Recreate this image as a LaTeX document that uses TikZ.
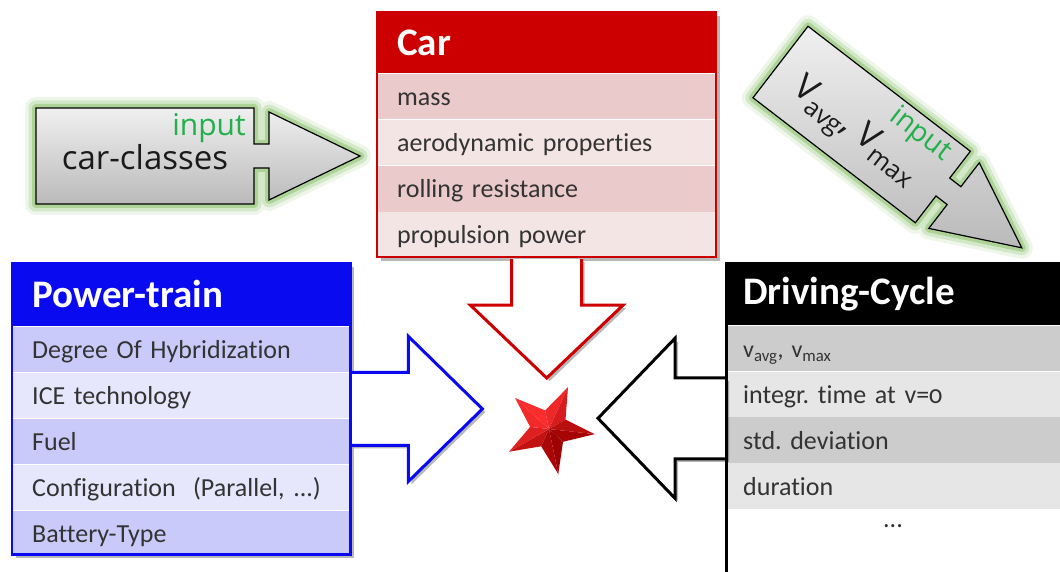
\documentclass[tikz,border=0pt]{standalone}
\usepackage{fontspec}
\setmainfont{Carlito}[Numbers=OldStyle, WordSpace=0.55, Ligatures=NoCommon]
\newfontfamily\arrowfont{Open Sans}
\usetikzlibrary{calc,shadows}
\definecolor{carred}{HTML}{CC0000}
\definecolor{carA}{HTML}{EACACA}
\definecolor{carB}{HTML}{F4E5E5}
\definecolor{ptblue}{HTML}{0A0AF0}
\definecolor{ptA}{HTML}{CACAFA}
\definecolor{ptB}{HTML}{E6E6FC}
\definecolor{dcA}{HTML}{CCCCCC}
\definecolor{dcB}{HTML}{E6E6E6}
\definecolor{rowtext}{HTML}{333333}
\definecolor{arrowtext}{HTML}{1A1A1A}
\definecolor{glow}{HTML}{8DC26F}
\definecolor{inputgreen}{HTML}{21B04B}
\definecolor{starlt}{HTML}{FF3030}
\definecolor{stardk}{HTML}{9A0000}
\newcommand{\lowsub}[1]{\raisebox{-0.45ex}{\scalebox{0.72}{#1}}}
\frenchspacing
\begin{document}
\begin{tikzpicture}[x=1pt,y=-1pt,
  rowtxt/.style={anchor=north west, inner xsep=20pt, inner ysep=0pt, align=left,
    text height=20pt, text depth=2pt, font=\fontsize{26}{30}\selectfont, text=rowtext},
  carrow/.style={rowtxt, text width=299pt, minimum height=45.75pt},
  ptrow/.style={rowtxt, text width=298pt, minimum height=45.6pt},
  dcrow/.style={rowtxt, inner xsep=17pt, text width=300pt, minimum height=45.5pt},
  headtxt/.style={anchor=north west, inner xsep=20pt, inner ysep=0pt, align=left,
    text height=28pt, text depth=2pt, font=\fontsize{39}{44}\selectfont\bfseries, text=white},
  frame/.style={anchor=north west, inner sep=0pt, fill=white,
    drop shadow={shadow xshift=3.5pt, shadow yshift=-3.5pt, opacity=.28, fill=black}},
  bigarrow/.style={draw=#1, line width=3pt, fill=white, line join=miter, miter limit=10,
    drop shadow={shadow xshift=3pt, shadow yshift=-3pt, opacity=.28, fill=black}},
  inshape/.style={
    preaction={draw=glow, line width=22pt, opacity=.15, line join=round},
    preaction={draw=glow, line width=15pt, opacity=.28, line join=round},
    preaction={draw=glow, line width=8pt, opacity=.55, line join=round},
    draw=black, line width=1.2pt, line join=miter,
    top color=black!6, bottom color=black!27},
  intext/.style={font=\arrowfont\fontsize{33}{38}\selectfont, text=arrowtext, inner sep=0pt},
  inlabel/.style={font=\arrowfont\fontsize{30}{34}\selectfont, text=inputgreen, inner sep=0pt},
  pics/inarrow/.style={code={
    \path[inshape] (0,-48) -- (218,-48) -- (218,-12) -- (233,-12) -- (233,-44) -- (324,0)
      -- (233,44) -- (233,12) -- (218,12) -- (218,48) -- (0,48) -- cycle;}}
]
\useasboundingbox (0,0) rectangle (1060,572);

% ---------- input arrows ----------
\begin{scope}[shift={(36,156)}]
  \pic {inarrow};
  \node[intext] (cctext) at (109,1) {car-classes};
  \node[inlabel] (ccinput) at (173,-28) {input};
\end{scope}
\begin{scope}[shift={(780.5,62)}, rotate=-37.6, scale=0.94]
  \pic[transform shape] {inarrow};
  \node[intext, transform shape, font=\arrowfont\fontsize{37}{40}\selectfont] (vtext) at (108,12)
    {V\lowsub{avg}, V\lowsub{max}};
  \node[inlabel, transform shape] (vinput) at (165,-29) {input};
\end{scope}

% ---------- Car ----------
\node[frame, minimum width=339pt, minimum height=245pt] (carframe) at (377,12) {};
\node[headtxt, fill=carred, text width=299pt, minimum height=61pt] (carhead) at (carframe.north west) {Car};
\node[carrow, fill=carA] (car1) at (carhead.south west) {mass};
\node[carrow, fill=carB] (car2) at (car1.south west) {aerodynamic properties};
\node[carrow, fill=carA] (car3) at (car2.south west) {rolling resistance};
\node[carrow, fill=carB] (car4) at (car3.south west) {propulsion power};

% ---------- Power-train ----------
\node[frame, minimum width=338pt, minimum height=291pt] (ptframe) at (12,263) {};
\node[headtxt, fill=ptblue, text width=298pt, minimum height=63pt] (pthead) at (ptframe.north west) {Power-train};
\node[ptrow, fill=ptA] (pt1) at (pthead.south west) {Degree Of Hybridization};
\node[ptrow, fill=ptB] (pt2) at (pt1.south west) {ICE technology};
\node[ptrow, fill=ptA] (pt3) at (pt2.south west) {Fuel};
\node[ptrow, fill=ptB] (pt4) at (pt3.south west) {Configuration\ \ (Parallel, ...)};
\node[ptrow, fill=ptA] (pt5) at (pt4.south west) {Battery-Type};

% ---------- Driving-Cycle ----------
\node[frame, minimum width=334pt, minimum height=312pt] (dcframe) at (726,262) {};
\node[headtxt, inner xsep=17pt, fill=black, text width=300pt, minimum height=63pt, text height=24pt] (dchead) at (dcframe.north west) {Driving-Cycle};
\node[dcrow, fill=dcA, font=\fontsize{24}{28}\selectfont] (dc1) at (dchead.south west) {v\textsubscript{avg}, v\textsubscript{max}};
\node[dcrow, fill=dcB] (dc2) at (dc1.south west) {integr. time at v=0};
\node[dcrow, fill=dcA] (dc3) at (dc2.south west) {std. deviation};
\node[dcrow, fill=dcB] (dc4) at (dc3.south west) {duration};
\node[font=\fontsize{26}{30}\selectfont, text=rowtext] (dcdots) at (893,526) {...};

% ---------- big arrows ----------
\coordinate (star) at (549,429);
\coordinate (redroot) at ($(car4.south)+(-35,1)$);
\draw[bigarrow=carred] (redroot) -- ++(0,46) -- ++(-41.5,0) -- ++(76.5,73) -- ++(76.5,-73)
  -- ++(-41.5,0) -- ++(0,-46);
\coordinate (blueroot) at (pt2.north east);
\draw[bigarrow=ptblue] (blueroot) -- ++(58,0) -- ++(0,-36) -- ++(74,72.5) -- ++(-74,72.5)
  -- ++(0,-36) -- ++(-58,0);
\coordinate (blackroot) at ($(dc2.north west)+(0,6.5)$);
\draw[bigarrow=black] (blackroot) -- ++(-51,0) -- ++(0,-39.5) -- ++(-77,80) -- ++(77,80)
  -- ++(0,-39.5) -- ++(51,0);

% ---------- frames' borders ----------
\draw[carred, line width=2pt] (carframe.north west) rectangle (carframe.south east);
\draw[ptblue, line width=2.5pt] (ptframe.north west) rectangle (ptframe.south east);
\draw[black, line width=3pt] (dcframe.north west) -- (dcframe.south west);

% ---------- star ----------
\foreach \k in {0,...,4}{
  \pgfmathsetmacro\ang{65.6+72*\k}
  \pgfmathtruncatemacro\pa{50+45*cos(\ang+18-125)}
  \pgfmathtruncatemacro\pb{50+45*cos(\ang-18-125)}
  \fill[starlt!\pa!stardk] (star) -- ($(star)+(-\ang:46)$) -- ($(star)+(-\ang-36:19)$) -- cycle;
  \fill[starlt!\pb!stardk] (star) -- ($(star)+(-\ang:46)$) -- ($(star)+(-\ang+36:19)$) -- cycle;
}
\end{tikzpicture}
\end{document}
